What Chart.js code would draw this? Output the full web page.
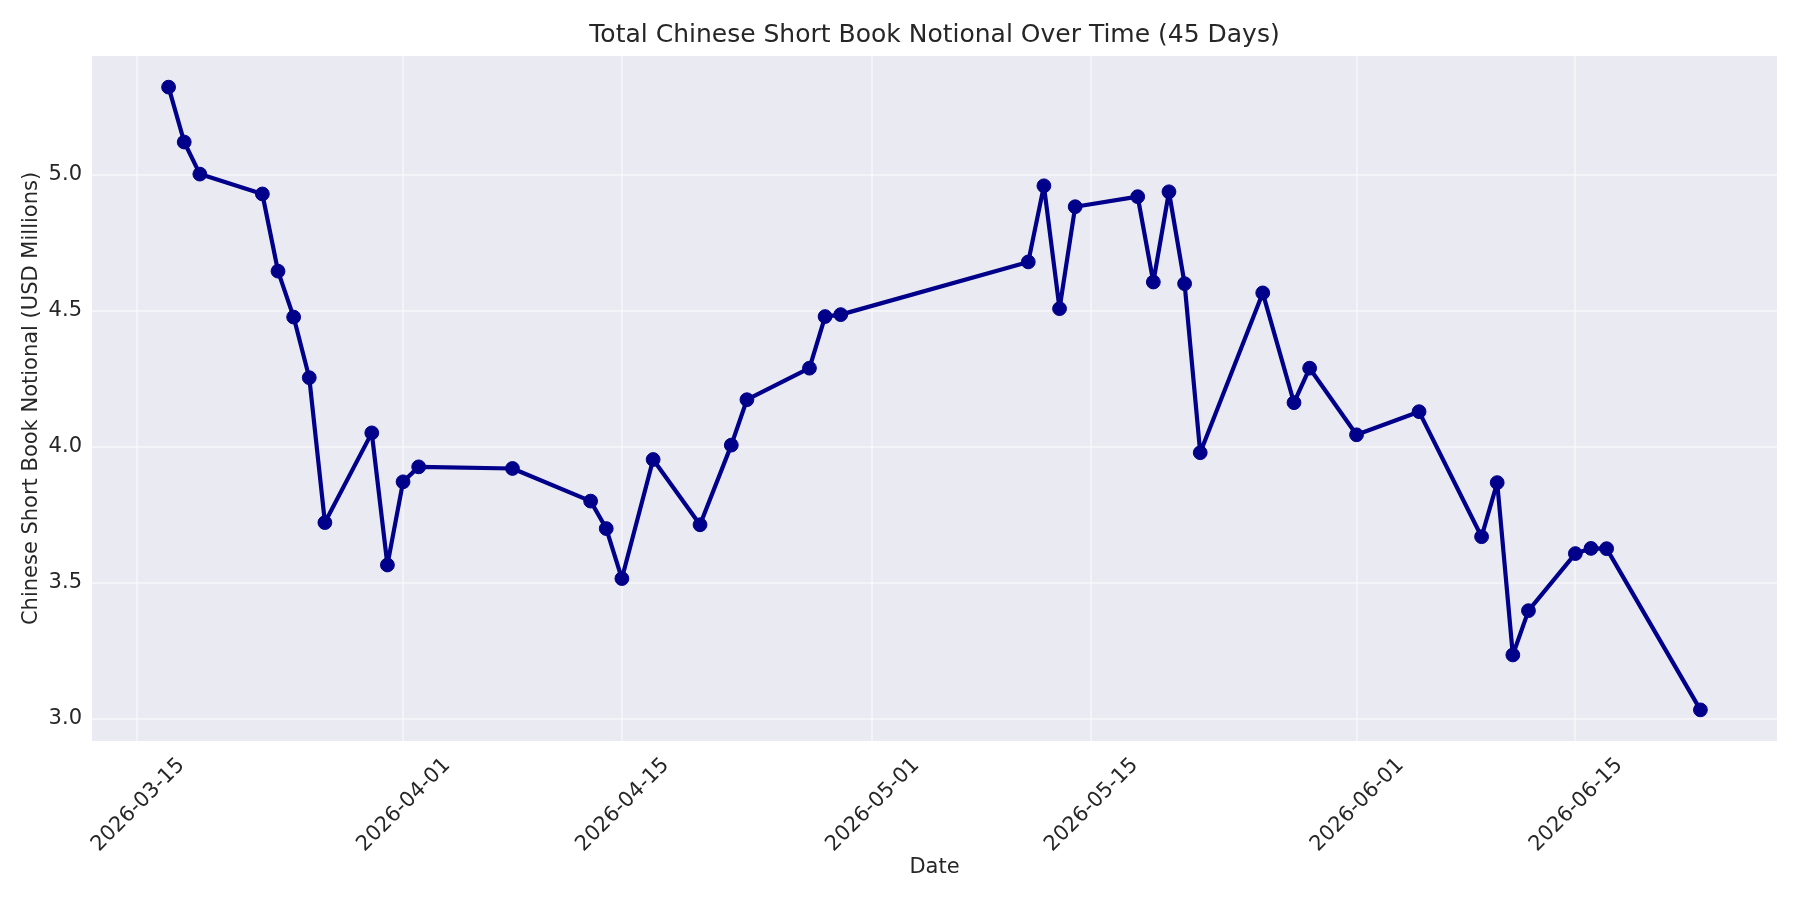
<!DOCTYPE html>
<html>
<head>
<meta charset="utf-8">
<script src="https://cdn.jsdelivr.net/npm/chart.js@4.4.1/dist/chart.umd.min.js"></script>
<style>
  html, body { margin: 0; padding: 0; background: #fff; }
  #wrap { width: 1800px; height: 900px; }
</style>
</head>
<body>
<div id="wrap"><canvas id="myChart" width="1800" height="900"></canvas></div>
<script>
// trading days and total short book notional (USD millions)
const dates = [
  '2026-03-17', '2026-03-18', '2026-03-19', '2026-03-23', '2026-03-24',
  '2026-03-25', '2026-03-26', '2026-03-27', '2026-03-30', '2026-03-31',
  '2026-04-01', '2026-04-02', '2026-04-08', '2026-04-13', '2026-04-14',
  '2026-04-15', '2026-04-17', '2026-04-20', '2026-04-22', '2026-04-23',
  '2026-04-27', '2026-04-28', '2026-04-29', '2026-05-11', '2026-05-12',
  '2026-05-13', '2026-05-14', '2026-05-18', '2026-05-19', '2026-05-20',
  '2026-05-21', '2026-05-22', '2026-05-26', '2026-05-28', '2026-05-29',
  '2026-06-01', '2026-06-05', '2026-06-09', '2026-06-10', '2026-06-11',
  '2026-06-12', '2026-06-15', '2026-06-16', '2026-06-17', '2026-06-23'
];
const notional = [
  5.323, 5.121, 5.003, 4.930, 4.646,
  4.477, 4.254, 3.721, 4.051, 3.565,
  3.871, 3.926, 3.920, 3.800, 3.699,
  3.515, 3.953, 3.713, 4.006, 4.173,
  4.289, 4.479, 4.486, 4.680, 4.960,
  4.508, 4.883, 4.920, 4.606, 4.938,
  4.600, 3.978, 4.566, 4.162, 4.289,
  4.044, 4.129, 3.669, 3.868, 3.234,
  3.397, 3.607, 3.626, 3.625, 3.032
];
const xTickLabels = ['2026-03-15', '2026-04-01', '2026-04-15', '2026-05-01', '2026-05-15', '2026-06-01', '2026-06-15'];
const yTickValues = [3.0, 3.5, 4.0, 4.5, 5.0];

const toMs = s => Date.parse(s + 'T00:00:00Z');
const fmtDate = ms => new Date(ms).toISOString().slice(0, 10);

const xs = dates.map(toMs);
const xLo = Math.min(...xs), xHi = Math.max(...xs);
const yLo = Math.min(...notional), yHi = Math.max(...notional);
const xPad = (xHi - xLo) * 0.05, yPad = (yHi - yLo) * 0.05;

const FONT = "'DejaVu Sans', sans-serif";
const TEXT = '#262626';

const plotBg = {
  id: 'plotBg',
  beforeDraw(chart) {
    const { ctx, chartArea: a } = chart;
    ctx.save();
    ctx.fillStyle = '#EAEAF2';
    ctx.fillRect(a.left, a.top, a.right - a.left, a.bottom - a.top);
    ctx.restore();
  }
};

const myChart = new Chart(document.getElementById('myChart'), {
  type: 'line',
  data: {
    datasets: [{
      data: xs.map((x, i) => ({ x: x, y: notional[i] })),
      borderColor: '#00008B',
      backgroundColor: '#00008B',
      borderWidth: 4.2,
      borderJoinStyle: 'round',
      borderCapStyle: 'round',
      pointRadius: 6.9,
      pointBorderWidth: 1,
      pointBorderColor: '#00008B',
      pointBackgroundColor: '#00008B',
      tension: 0,
      fill: false
    }]
  },
  options: {
    responsive: false,
    animation: false,
    devicePixelRatio: 1,
    layout: { padding: { left: 10, right: 23, top: 0, bottom: 10 } },
    plugins: {
      legend: { display: false },
      tooltip: { enabled: false },
      title: {
        display: true,
        fullSize: false,
        text: 'Total Chinese Short Book Notional Over Time (45 Days)',
        color: TEXT,
        font: { family: FONT, size: 25, weight: 'normal' },
        padding: { top: 20, bottom: 6 }
      }
    },
    scales: {
      x: {
        type: 'linear',
        min: xLo - xPad,
        max: xHi + xPad,
        afterBuildTicks: s => { s.ticks = xTickLabels.map(d => ({ value: toMs(d) })); },
        afterFit: s => { s.height = 149; },
        border: { display: false },
        grid: { color: 'rgba(255,255,255,0.45)', lineWidth: 2, drawTicks: false },
        ticks: {
          autoSkip: false,
          minRotation: 45,
          maxRotation: 45,
          padding: 12,
          labelOffset: 44,
          color: TEXT,
          font: { family: FONT, size: 21 },
          callback: v => fmtDate(v)
        },
        title: {
          display: true,
          text: 'Date',
          color: TEXT,
          font: { family: FONT, size: 21 },
          padding: { top: 0, bottom: 10 }
        }
      },
      y: {
        min: yLo - yPad,
        max: yHi + yPad,
        afterBuildTicks: s => { s.ticks = yTickValues.map(v => ({ value: v })); },
        afterFit: s => { s.width = 82; },
        border: { display: false },
        grid: { color: 'rgba(255,255,255,0.45)', lineWidth: 2, drawTicks: false },
        ticks: {
          padding: 10,
          color: TEXT,
          font: { family: FONT, size: 21 },
          callback: v => v.toFixed(1)
        },
        title: {
          display: true,
          text: 'Chinese Short Book Notional (USD Millions)',
          color: TEXT,
          font: { family: FONT, size: 21 },
          padding: { top: 9, bottom: 0 }
        }
      }
    }
  },
  plugins: [plotBg]
});
</script>
</body>
</html>
